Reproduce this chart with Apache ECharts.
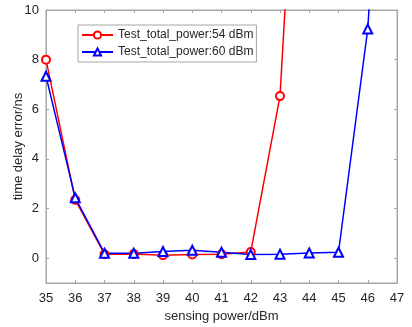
<!DOCTYPE html>
<html>
<head>
<meta charset="utf-8">
<script src="https://cdn.jsdelivr.net/npm/echarts@6/dist/echarts.min.js"></script>
<style>html,body{margin:0;padding:0;background:#fff}#c{width:412px;height:327px}</style>
</head>
<body>
<div id="c"></div>
<script>
const xValues = [35, 36, 37, 38, 39, 40, 41, 42, 43, 44, 45, 46, 47];
const series54Name = 'Test_total_power:54 dBm';
const series60Name = 'Test_total_power:60 dBm';
const series54 = [8.0, 2.35, 0.16, 0.17, 0.12, 0.15, 0.16, 0.25, 6.53, 27];
const series60 = [7.33, 2.43, 0.2, 0.2, 0.27, 0.32, 0.24, 0.15, 0.16, 0.21, 0.24, 9.23, 28];
const yTicks = [0, 2, 4, 6, 8, 10];
const xTicks = [35, 36, 37, 38, 39, 40, 41, 42, 43, 44, 45, 46, 47];

const pairs = (vals) => vals.map((v, i) => [xValues[i], v]);
const textColor = '#262626';
const frameColor = '#a6a6a6';
const font = 'Liberation Sans, Arial, sans-serif';

const chart = echarts.init(document.getElementById('c'));
chart.setOption({
  animation: false,
  backgroundColor: '#fff',
  grid: { left: 46, right: 15, top: 10, bottom: 44, show: true, borderColor: frameColor, borderWidth: 1,
          containLabel: false, outerBoundsMode: 'none' },
  legend: {
    left: 78, top: 25,
    orient: 'vertical',
    backgroundColor: '#fff',
    borderColor: '#a6a6a6', borderWidth: 1,
    padding: [4, 3, 4, 3],
    itemGap: 5,
    itemWidth: 31, itemHeight: 9,
    textStyle: { fontSize: 12, color: textColor, fontFamily: font },
    data: [series54Name, series60Name]
  },
  xAxis: [{
    type: 'value', min: 35, max: 47, interval: 1,
    name: 'sensing power/dBm', nameLocation: 'middle', nameGap: 27, nameMoveOverlap: false,
    nameTextStyle: { fontSize: 13, color: textColor, fontFamily: font },
    axisLine: { show: true, onZero: false, lineStyle: { color: frameColor, width: 1 } },
    axisTick: { show: true, inside: true, length: 3, lineStyle: { color: frameColor } },
    axisLabel: { fontSize: 13, color: textColor, fontFamily: font, margin: 9 },
    splitLine: { show: false }
  }, {
    type: 'value', min: 35, max: 47, interval: 1, position: 'top',
    axisLine: { show: true, onZero: false, lineStyle: { color: frameColor, width: 1 } },
    axisTick: { show: true, inside: true, length: 3, lineStyle: { color: frameColor } },
    axisLabel: { show: false },
    splitLine: { show: false }
  }],
  yAxis: [{
    type: 'value', min: -1, max: 10,
    name: 'time delay error/ns', nameLocation: 'middle', nameGap: 21, nameMoveOverlap: false,
    nameTextStyle: { fontSize: 13, color: textColor, fontFamily: font },
    axisLine: { show: true, onZero: false, lineStyle: { color: frameColor, width: 1 } },
    axisTick: { show: true, inside: true, length: 3, lineStyle: { color: frameColor }, customValues: yTicks },
    axisLabel: { fontSize: 13, color: textColor, fontFamily: font, margin: 7, customValues: yTicks },
    splitLine: { show: false }
  }, {
    type: 'value', min: -1, max: 10, position: 'right',
    axisLine: { show: true, onZero: false, lineStyle: { color: frameColor, width: 1 } },
    axisTick: { show: true, inside: true, length: 3, lineStyle: { color: frameColor }, customValues: yTicks },
    axisLabel: { show: false, customValues: yTicks },
    splitLine: { show: false }
  }],
  series: [{
    name: series54Name, type: 'line', data: pairs(series54),
    symbol: 'emptyCircle', symbolSize: 8, clip: true,
    itemStyle: { color: '#ff0000', borderWidth: 1.2 },
    lineStyle: { color: '#ff0000', width: 1.5 }
  }, {
    name: series60Name, type: 'line', data: pairs(series60),
    symbol: 'emptyTriangle', symbolSize: 9, clip: true,
    itemStyle: { color: '#0000ff', borderWidth: 1.2 },
    lineStyle: { color: '#0000ff', width: 1.5 }
  }]
});
</script>
</body>
</html>
